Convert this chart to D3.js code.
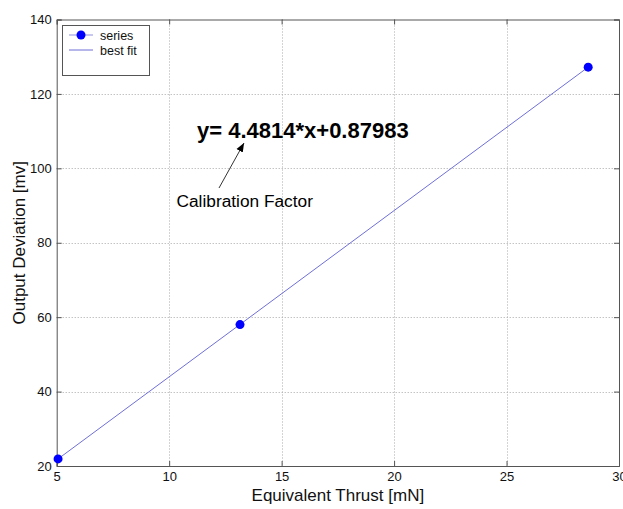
<!DOCTYPE html>
<html><head><meta charset="utf-8">
<script src="https://cdn.jsdelivr.net/npm/d3@7"></script>
<style>body{margin:0;background:#fff}svg{display:block;font-family:"Liberation Sans",Arial,sans-serif}</style>
</head><body><svg id="c" width="623" height="509"></svg>
<script>
const seriesX = [5.06, 13.15, 28.63];
const seriesY = [21.9, 58.0, 127.2];
const fitX = [5.06, 28.63];
const fitY = [21.9, 127.2];
const xTicks = [5, 10, 15, 20, 25, 30];
const yTicks = [20, 40, 60, 80, 100, 120, 140];
const equationText = "y= 4.4814*x+0.87983";
const annotationText = "Calibration Factor";

const svg = d3.select("#c");
const L = 56.7, R = 619, T = 19.5, B = 466;
const x = d3.scaleLinear().domain([5, 30]).range([L, R]);
const y = d3.scaleLinear().domain([20, 140]).range([B, T]);

// grid
const g = svg.append("g");
g.selectAll(".gx").data(xTicks.slice(1, -1)).enter().append("line")
  .attr("x1", d => Math.round(x(d)) + 0.5).attr("x2", d => Math.round(x(d)) + 0.5)
  .attr("y1", T).attr("y2", B).attr("stroke", "#a8a8a8").attr("stroke-width", 1).attr("stroke-dasharray", "1,2");
g.selectAll(".gy").data(yTicks.slice(1, -1)).enter().append("line")
  .attr("y1", d => Math.round(y(d)) + 0.5).attr("y2", d => Math.round(y(d)) + 0.5)
  .attr("x1", L).attr("x2", R).attr("stroke", "#a8a8a8").attr("stroke-width", 1).attr("stroke-dasharray", "1,2");

// axes
const ax = svg.append("g").attr("transform", `translate(0,${B})`)
  .call(d3.axisBottom(x).tickValues(xTicks).tickSize(-5).tickPadding(6).tickFormat(d3.format("d")));
const ay = svg.append("g").attr("transform", `translate(${L},0)`)
  .call(d3.axisLeft(y).tickValues(yTicks).tickSize(-5).tickPadding(5).tickFormat(d3.format("d")));
const axT = svg.append("g").attr("transform", `translate(0,${T})`)
  .call(d3.axisTop(x).tickValues(xTicks).tickSize(-5).tickFormat(""));
const ayR = svg.append("g").attr("transform", `translate(${R},0)`)
  .call(d3.axisRight(y).tickValues(yTicks).tickSize(-5).tickFormat(""));
[ax, ay, axT, ayR].forEach(a => {
  a.select(".domain").attr("stroke", "#555");
  a.selectAll(".tick line").attr("stroke", "#555");
  a.selectAll("text").attr("fill", "#111").style("font-size", "13px").style("font-family", "Liberation Sans, Arial, sans-serif");
});
ay.selectAll("text").attr("dy", "0.32em");

// fit line
svg.append("path")
  .datum(fitX.map((d, i) => [d, fitY[i]]))
  .attr("d", d3.line().x(d => x(d[0])).y(d => y(d[1])))
  .attr("fill", "none").attr("stroke", "#6f6fd8").attr("stroke-width", 1);

// points
svg.selectAll(".pt").data(seriesX.map((d, i) => [d, seriesY[i]])).enter().append("circle")
  .attr("cx", d => x(d[0])).attr("cy", d => y(d[1])).attr("r", 4.5).attr("fill", "#0000ff");

// annotation
svg.append("text").attr("x", 197).attr("y", 138).text(equationText)
  .style("font-size", "22px").style("font-weight", "bold").attr("fill", "#000");
svg.append("defs").append("marker").attr("id", "ah").attr("viewBox", "0 0 10 10")
  .attr("refX", 10).attr("refY", 5).attr("markerWidth", 9).attr("markerHeight", 9)
  .attr("markerUnits", "userSpaceOnUse").attr("orient", "auto")
  .append("path").attr("d", "M0,1 L10,5 L0,9 Z").attr("fill", "#000");
svg.append("line").attr("x1", 219).attr("y1", 188).attr("x2", 244).attr("y2", 143)
  .attr("stroke", "#000").attr("stroke-width", 0.8).attr("marker-end", "url(#ah)");
svg.append("text").attr("x", 176.5).attr("y", 207).text(annotationText)
  .style("font-size", "17.3px").attr("fill", "#000");

// axis labels
svg.append("text").attr("x", (L + R) / 2).attr("y", 501).attr("text-anchor", "middle")
  .text("Equivalent Thrust [mN]").style("font-size", "17px").attr("fill", "#111");
svg.append("text").attr("transform", `translate(25,${(T + B) / 2}) rotate(-90)`).attr("text-anchor", "middle")
  .text("Output Deviation [mv]").style("font-size", "17px").attr("fill", "#111");

// legend
const lg = svg.append("g");
lg.append("rect").attr("x", 62.5).attr("y", 25.5).attr("width", 87).attr("height", 50)
  .attr("fill", "#fff").attr("stroke", "#555").attr("stroke-width", 1);
lg.append("line").attr("x1", 69).attr("x2", 93).attr("y1", 35).attr("y2", 35).attr("stroke", "#8f8fe0").attr("stroke-width", 1);
lg.append("circle").attr("cx", 81).attr("cy", 35).attr("r", 4.5).attr("fill", "#0000ff");
lg.append("line").attr("x1", 69).attr("x2", 93).attr("y1", 50).attr("y2", 50).attr("stroke", "#6f6fd8").attr("stroke-width", 1);
lg.append("text").attr("x", 100).attr("y", 39.5).text("series").style("font-size", "12.5px").attr("fill", "#111");
lg.append("text").attr("x", 100).attr("y", 54.5).text("best fit").style("font-size", "12.5px").attr("fill", "#111");
</script></body></html>
